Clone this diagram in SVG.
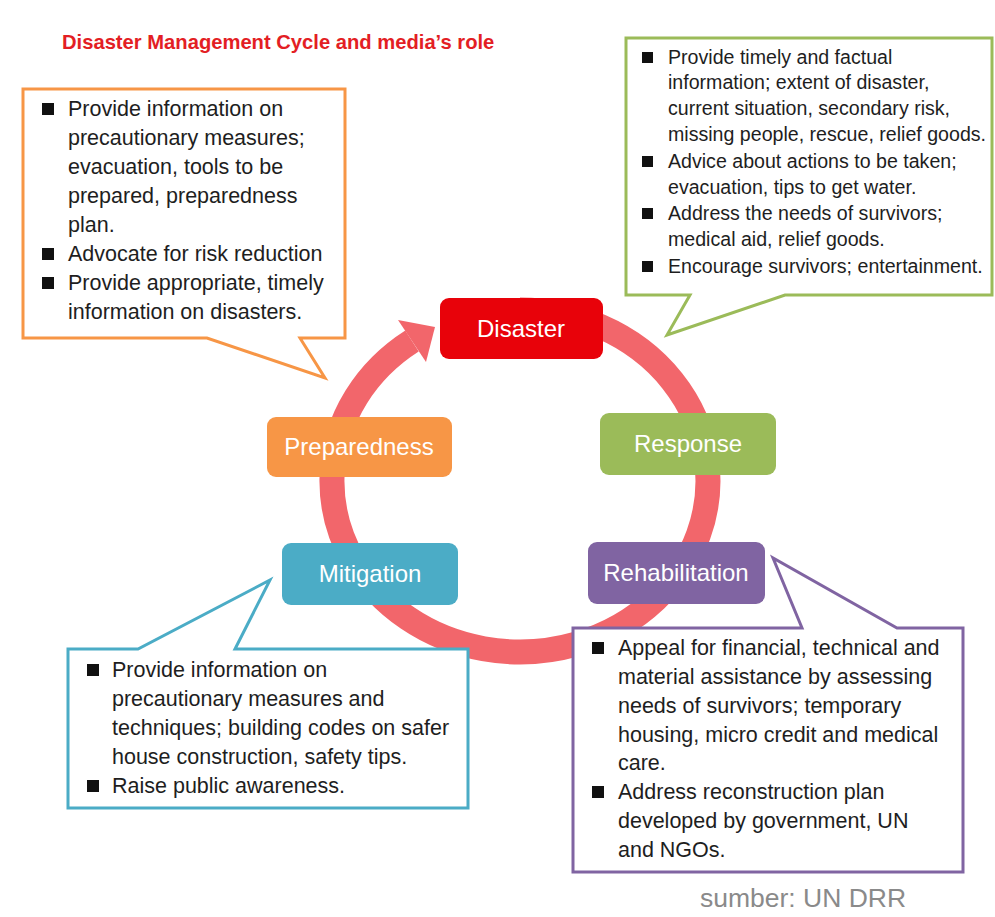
<svg xmlns="http://www.w3.org/2000/svg" width="995" height="917" viewBox="0 0 995 917">
<style>
  .t { font-family: "Liberation Sans", Arial, sans-serif; fill: #1e1e1e; }
  .b { font-size: 21.5px; }
  .g { font-size: 19.6px; }
  .node { font-family: "Liberation Sans", Arial, sans-serif; font-size: 24px; fill: #ffffff; text-anchor: middle; }
  .co { fill: #ffffff; stroke-width: 3; stroke-linejoin: miter; }
  .bul { fill: #111111; }
</style>
<rect width="995" height="917" fill="#ffffff"/>

<text x="62" y="49" font-family="'Liberation Sans', Arial, sans-serif" font-size="20.2" font-weight="bold" fill="#E31E24">Disaster Management Cycle and media’s role</text>

<g id="connectors">
  <path d="M520,310 A188,171 0 1 1 412,341" fill="none" stroke="#F2666B" stroke-width="25"/>
  <polygon points="426,362 398,320 435,327" fill="#F2666B"/>
</g>

<g id="node-disaster">
  <rect x="440" y="298" width="163" height="61" rx="9" fill="#E8020A"/>
  <text class="node" x="521" y="337">Disaster</text>
</g>
<g id="node-response">
  <rect x="600" y="413" width="176" height="62" rx="9" fill="#9BBB59"/>
  <text class="node" x="688" y="452">Response</text>
</g>
<g id="node-rehabilitation">
  <rect x="588" y="542" width="177" height="62" rx="9" fill="#8064A2"/>
  <text class="node" x="676" y="581">Rehabilitation</text>
</g>
<g id="node-mitigation">
  <rect x="282" y="543" width="176" height="62" rx="9" fill="#4BACC6"/>
  <text class="node" x="370" y="582">Mitigation</text>
</g>
<g id="node-preparedness">
  <rect x="267" y="417" width="185" height="60" rx="9" fill="#F79646"/>
  <text class="node" x="359" y="455">Preparedness</text>
</g>

<g id="callout-preparedness">
  <path class="co" stroke="#F79646" d="M23,89 H345 V338 H300 L325,378 L207,338 H23 Z"/>
  <rect class="bul" x="42" y="103" width="12" height="12"/>
  <rect class="bul" x="42" y="248" width="12" height="12"/>
  <rect class="bul" x="42" y="277" width="12" height="12"/>
  <text class="t b" x="68" y="116">Provide information on</text>
  <text class="t b" x="68" y="145">precautionary measures;</text>
  <text class="t b" x="68" y="174">evacuation, tools to be</text>
  <text class="t b" x="68" y="203">prepared, preparedness</text>
  <text class="t b" x="68" y="232">plan.</text>
  <text class="t b" x="68" y="261">Advocate for risk reduction</text>
  <text class="t b" x="68" y="290">Provide appropriate, timely</text>
  <text class="t b" x="68" y="319">information on disasters.</text>
</g>

<g id="callout-response">
  <path class="co" stroke="#9BBB59" d="M626,38 H992 V295 H785 L667,335 L690,295 H626 Z"/>
  <rect class="bul" x="642" y="52" width="11" height="11"/>
  <rect class="bul" x="642" y="156" width="11" height="11"/>
  <rect class="bul" x="642" y="208" width="11" height="11"/>
  <rect class="bul" x="642" y="261" width="11" height="11"/>
  <text class="t g" x="668" y="64">Provide timely and factual</text>
  <text class="t g" x="668" y="89">information; extent of disaster,</text>
  <text class="t g" x="668" y="115">current situation, secondary risk,</text>
  <text class="t g" x="668" y="141">missing people, rescue, relief goods.</text>
  <text class="t g" x="668" y="168">Advice about actions to be taken;</text>
  <text class="t g" x="668" y="194">evacuation, tips to get water.</text>
  <text class="t g" x="668" y="220">Address the needs of survivors;</text>
  <text class="t g" x="668" y="246">medical aid, relief goods.</text>
  <text class="t g" x="668" y="273">Encourage survivors; entertainment.</text>
</g>

<g id="callout-mitigation">
  <path class="co" stroke="#4BACC6" d="M68,649 H138 L270,580 L235,649 H468 V808 H68 Z"/>
  <rect class="bul" x="87" y="664" width="12" height="12"/>
  <rect class="bul" x="87" y="780" width="12" height="12"/>
  <text class="t b" x="112" y="677">Provide information on</text>
  <text class="t b" x="112" y="706">precautionary measures and</text>
  <text class="t b" x="112" y="735">techniques; building codes on safer</text>
  <text class="t b" x="112" y="764">house construction, safety tips.</text>
  <text class="t b" x="112" y="793">Raise public awareness.</text>
</g>

<g id="callout-rehabilitation">
  <path class="co" stroke="#8064A2" d="M573,628 H802 L773,558 L897,628 H963 V872 H573 Z"/>
  <rect class="bul" x="592" y="642" width="12" height="12"/>
  <rect class="bul" x="592" y="786" width="12" height="12"/>
  <text class="t b" x="618" y="655">Appeal for financial, technical and</text>
  <text class="t b" x="618" y="684">material assistance by assessing</text>
  <text class="t b" x="618" y="713">needs of survivors; temporary</text>
  <text class="t b" x="618" y="742">housing, micro credit and medical</text>
  <text class="t b" x="618" y="770">care.</text>
  <text class="t b" x="618" y="799">Address reconstruction plan</text>
  <text class="t b" x="618" y="828">developed by government, UN</text>
  <text class="t b" x="618" y="857">and NGOs.</text>
</g>

<text x="700" y="907" font-family="'Liberation Sans', Arial, sans-serif" font-size="26.5" fill="#8a8a8a">sumber: UN DRR</text>
</svg>
